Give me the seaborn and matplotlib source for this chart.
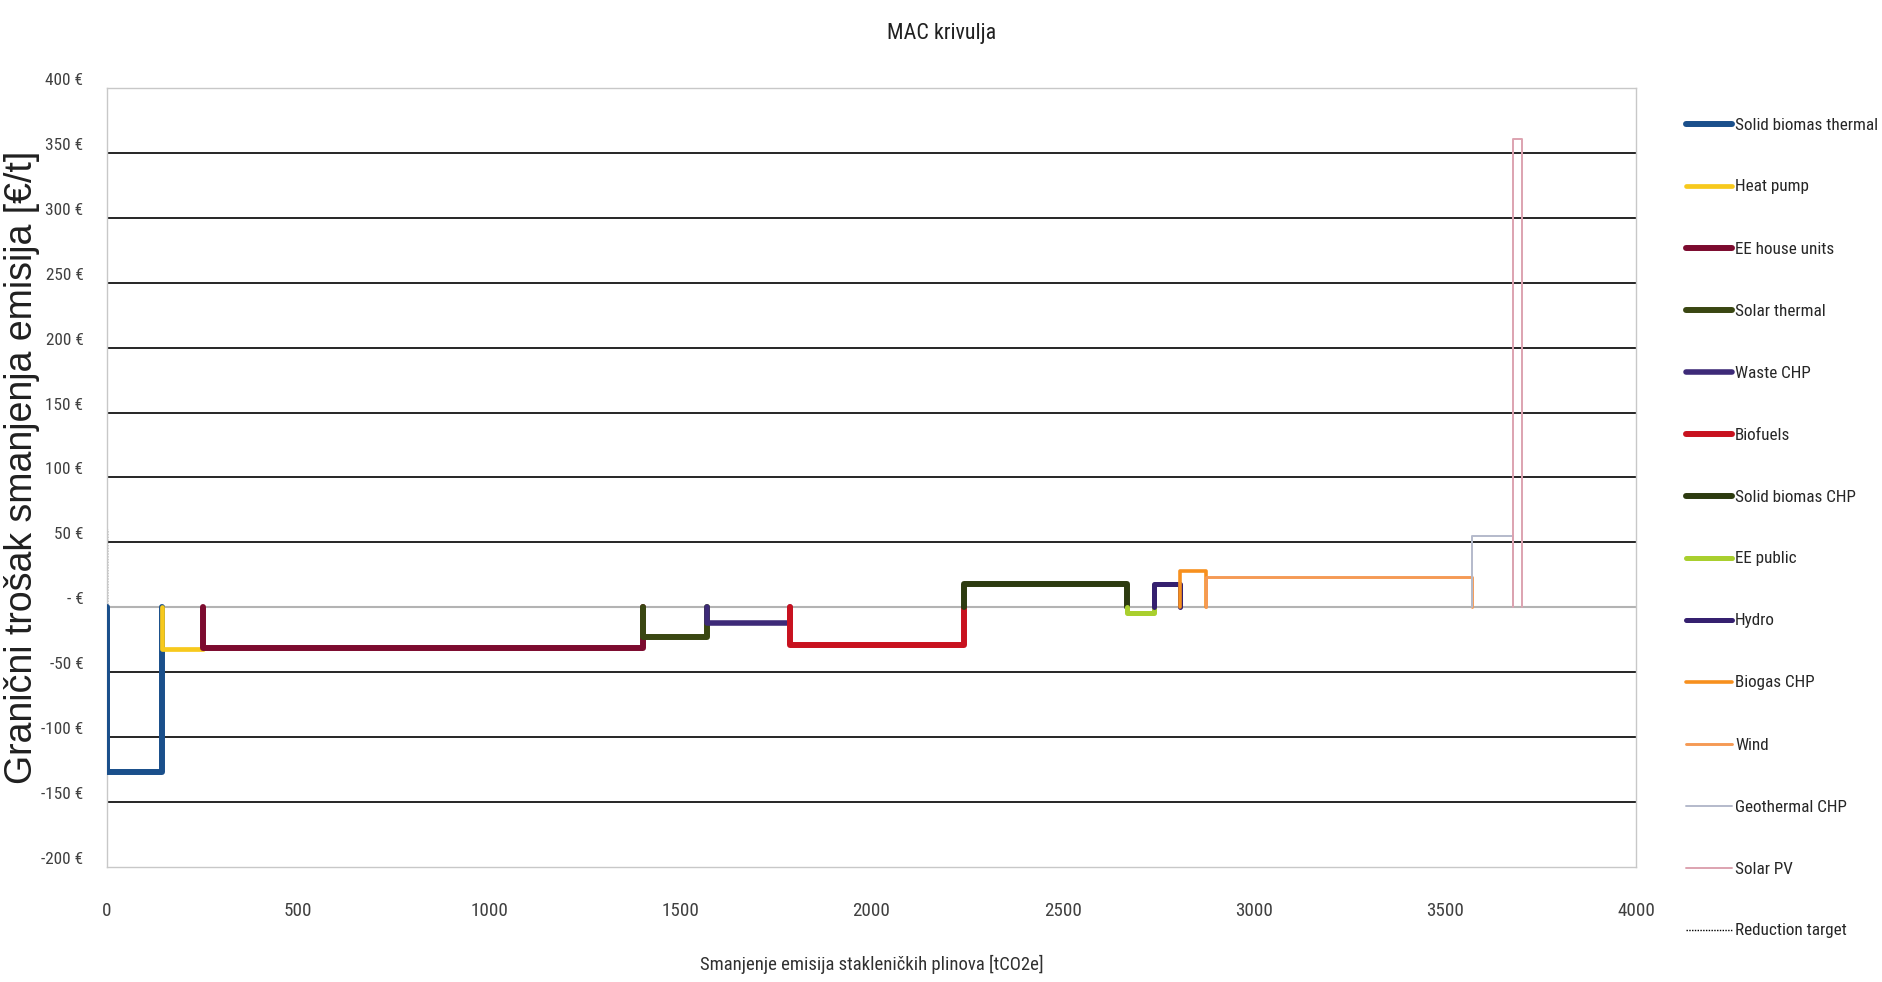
import glob
import os

import matplotlib
matplotlib.use("Agg")
import matplotlib.pyplot as plt
from matplotlib import font_manager
from matplotlib.font_manager import FontProperties
from matplotlib.textpath import TextPath
from matplotlib.ticker import FuncFormatter
import numpy as np
import pandas as pd
import seaborn as sns

# --- data -------------------------------------------------------------
technologies = [
    "Solid biomas thermal", "Heat pump", "EE house units", "Solar thermal",
    "Waste CHP", "Biofuels", "Solid biomas CHP", "EE public", "Hydro",
    "Biogas CHP", "Wind", "Geothermal CHP", "Solar PV",
]
# abatement potential of each measure [tCO2e]
abatement = [145, 105, 1151, 169, 216, 455, 427, 70, 70, 67, 696, 108, 24]
# marginal abatement cost [EUR/t]
cost = [-127, -32, -31, -23, -12, -29, 18, -4, 18, 28, 23, 55, 361]

reduction_target_x = 0
reduction_target_top = 60

x_ticks = [0, 500, 1000, 1500, 2000, 2500, 3000, 3500, 4000]
y_ticks = [-200, -150, -100, -50, 0, 50, 100, 150, 200, 250, 300, 350, 400]

colors = ["#1a4f8b", "#f7c91c", "#7c0b2f", "#3a4712", "#3d2a78", "#c8121f",
          "#2d3b10", "#a9cf2e", "#35206f", "#f7901e", "#f59a55", "#b4bacb",
          "#dda3b0"]
widths = [4.3, 3.4, 4.3, 4.3, 4.0, 4.3, 4.3, 3.6, 3.6, 2.6, 2.1, 1.4, 1.4]

DPI = 100
FIG_W, FIG_H = 1883, 982

# --- fonts ------------------------------------------------------------
sns.set_theme(style="white")
plt.rcParams["font.family"] = ["Liberation Sans", "DejaVu Sans"]


def find_condensed():
    paths = {f.fname for f in font_manager.fontManager.ttflist}
    for ext in ("ttf", "otf", "TTF"):
        paths.update(glob.glob(f"/usr/share/fonts/**/*.{ext}", recursive=True))
        paths.update(glob.glob(os.path.expanduser(f"~/.fonts/**/*.{ext}"), recursive=True))
    names = {os.path.basename(p): p for p in paths}
    preferred = [
        "LiberationSansNarrow-Regular.ttf", "ARIALN.TTF", "arialn.ttf",
        "RobotoCondensed-Regular.ttf", "Roboto-Condensed.ttf",
        "RobotoCondensed[wght].ttf",
        "NotoSans-Condensed.ttf", "NotoSans-SemiCondensed.ttf",
        "OpenSans_Condensed-Regular.ttf", "OpenSans-CondensedRegular.ttf",
        "DejaVuSansCondensed.ttf",
    ]
    for n in preferred:
        if n in names:
            return names[n]
    for n, p in sorted(names.items()):
        low = n.lower()
        if ("narrow" in low or "condensed" in low) and "bold" not in low \
                and "italic" not in low and "light" not in low and "mono" not in low \
                and "oblique" not in low and "extra" not in low and "black" not in low \
                and "medium" not in low and "thin" not in low:
            return p
    return None


condensed_path = find_condensed()
regular_fp = FontProperties(family=["Liberation Sans", "DejaVu Sans"])


def base_prop():
    if condensed_path:
        return FontProperties(fname=condensed_path)
    return FontProperties(family=["Liberation Sans", "DejaVu Sans"])


def fit_size(text, target_px, fp):
    probe = fp.copy()
    probe.set_size(100)
    ext = TextPath((0, 0), text, prop=probe).get_extents()
    width_px = ext.width * DPI / 72
    return 100 * target_px / width_px


def sized(size, fp=None):
    p = (fp or base_prop()).copy()
    p.set_size(size)
    return p


cond = base_prop()
legend_size = fit_size("Solid biomas thermal", 141, cond)
ytick_size = fit_size("-200 €", 41, cond)
xtick_size = fit_size("1500", 35, cond)
xlabel_size = fit_size("Smanjenje emisija stakleničkih plinova [tCO2e]", 340, cond)
title_size = fit_size("MAC krivulja", 106, cond)
ylabel_size = fit_size("Granični trošak smanjenja emisija [€/t]", 630, regular_fp)

# --- build step outlines ---------------------------------------------
ends = np.cumsum(abatement)
starts = ends - np.array(abatement)
rows = []
for name, s, e, v in zip(technologies, starts, ends, cost):
    for px, py in [(s, 0), (s, v), (e, v), (e, 0)]:
        rows.append({"technology": name, "x": px, "y": py})
df = pd.DataFrame(rows)

fig = plt.figure(figsize=(FIG_W / DPI, FIG_H / DPI), dpi=DPI)
ax = fig.add_axes([107 / FIG_W, 1 - 867 / FIG_H, 1529 / FIG_W, 779 / FIG_H])

for name, c, w in zip(technologies, colors, widths):
    sub = df[df["technology"] == name]
    sns.lineplot(data=sub, x="x", y="y", sort=False, estimator=None,
                 color=c, lw=w, ax=ax, label=name, zorder=3)

target = pd.DataFrame({"x": [reduction_target_x, reduction_target_x],
                       "y": [0, reduction_target_top]})
sns.lineplot(data=target, x="x", y="y", sort=False, estimator=None,
             color="black", lw=1.0, ls=(0, (1, 1)), ax=ax,
             label="Reduction target", zorder=2)

# --- axes -------------------------------------------------------------
ax.set_xlim(0, 4000)
ax.set_ylim(-200, 400)
ax.set_xticks(x_ticks)
ax.set_yticks(y_ticks)
ax.yaxis.set_major_formatter(FuncFormatter(lambda v, p: "- €" if v == 0 else f"{int(v)} €"))
ax.tick_params(axis="y", length=0, pad=17, labelcolor="#404040")
ax.tick_params(axis="x", length=0, pad=25, labelcolor="#404040")
for lbl in ax.get_yticklabels():
    lbl.set_fontproperties(sized(ytick_size))
    lbl.set_verticalalignment("bottom")
for lbl in ax.get_xticklabels():
    lbl.set_fontproperties(sized(xtick_size))

ax.grid(axis="y", color="black", lw=1.2, zorder=1)
ax.grid(axis="x", visible=False)
for tick_val, gl in zip(y_ticks, ax.get_ygridlines()):
    if tick_val == 0:
        gl.set_color("#b3b3b3")
        gl.set_linewidth(1.5)
    elif tick_val in (-200, 400):
        gl.set_visible(False)

for sp in ax.spines.values():
    sp.set_color("#c8c8c8")
    sp.set_linewidth(1.0)

ax.set_xlabel("Smanjenje emisija stakleničkih plinova [tCO2e]",
              fontproperties=sized(xlabel_size), color="#303030")
ax.xaxis.set_label_coords(0.5, -0.113)
ax.set_ylabel("Granični trošak smanjenja emisija [€/t]",
              fontproperties=sized(ylabel_size, regular_fp), color="#202020")
ax.yaxis.set_label_coords(-0.0435, 0.513)

fig.text(0.5, 1 - 34 / FIG_H, "MAC krivulja", ha="center", va="center",
         fontproperties=sized(title_size), color="#202020")

# --- legend: rows 62 px apart, first row centred 125 px from the top ---
handles, labels = ax.get_legend_handles_labels()
ax.get_legend().remove()
leg_px = legend_size * DPI / 72
ROW_PITCH, FIRST_ROW = 62.0, 125.0


def make_legend(spacing, top_px):
    return fig.legend(handles, labels, loc="upper left",
                      bbox_to_anchor=(1687 / FIG_W - 0.0005, 1 - top_px / FIG_H),
                      frameon=False, prop=sized(legend_size),
                      handlelength=46 / leg_px, handletextpad=3 / leg_px,
                      labelspacing=spacing, borderaxespad=0, borderpad=0)


spacing, top_px = 2.0, FIRST_ROW - 10
leg = make_legend(spacing, top_px)
for _ in range(3):
    fig.canvas.draw()
    renderer = fig.canvas.get_renderer()
    centres = [FIG_H - (t.get_window_extent(renderer).y0 + t.get_window_extent(renderer).y1) / 2
               for t in leg.get_texts()]
    pitch = (centres[-1] - centres[0]) / (len(centres) - 1)
    spacing += (ROW_PITCH - pitch) / leg_px
    top_px += FIRST_ROW - centres[0]
    leg.remove()
    leg = make_legend(spacing, top_px)

fig.savefig("out.png", dpi=DPI, facecolor="white")
